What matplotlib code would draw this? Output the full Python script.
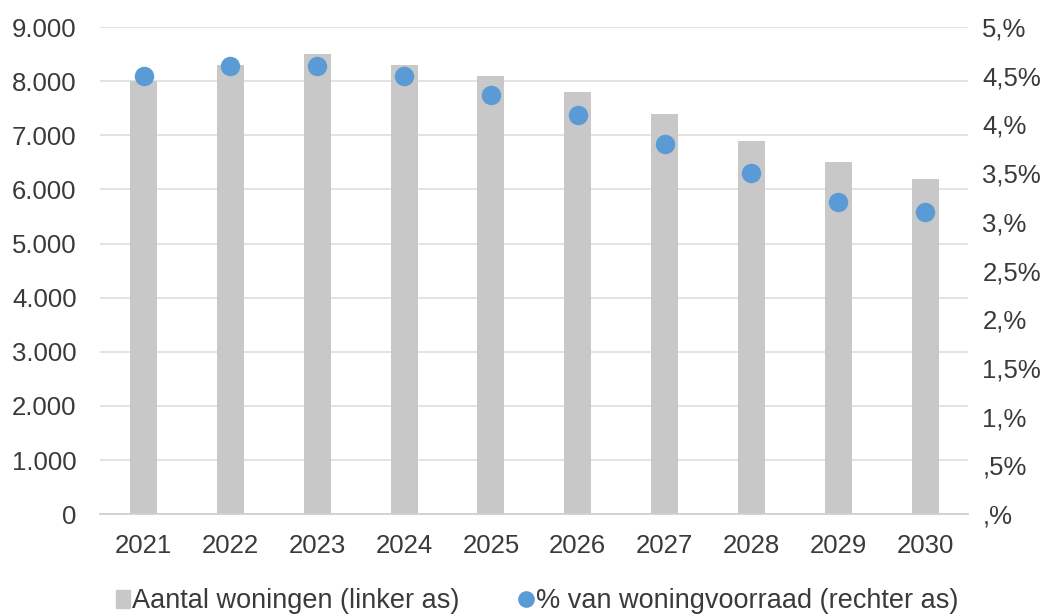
import numpy as np
import matplotlib.pyplot as plt
from matplotlib.ticker import FuncFormatter, MultipleLocator
from matplotlib.lines import Line2D
from matplotlib.patches import Patch

plt.rcParams['font.family'] = ['Liberation Sans', 'DejaVu Sans']

years = ["2021", "2022", "2023", "2024", "2025", "2026", "2027", "2028", "2029", "2030"]
woningen = [8000, 8300, 8500, 8300, 8100, 7800, 7400, 6900, 6500, 6200]
pct_voorraad = [4.5, 4.6, 4.6, 4.5, 4.3, 4.1, 3.8, 3.5, 3.2, 3.1]

bar_color = "#c8c8c8"
dot_color = "#5b9bd5"
text_color = "#3a3a3a"
grid_color = "#e0e0e0"

fig = plt.figure(figsize=(10.55, 6.15), dpi=100)
ax = fig.add_axes([0.095, 0.164, 0.823, 0.792])
ax2 = ax.twinx()

x = np.arange(len(years))
ax.bar(x, woningen, width=0.31, color=bar_color, zorder=2)
ax2.plot(x, pct_voorraad, "o", color=dot_color, markersize=13, zorder=3)

ax.set_xlim(-0.5, len(years) - 0.5)
ax.set_ylim(0, 9000)
ax2.set_ylim(0, 5)
ax.yaxis.set_major_locator(MultipleLocator(1000))
ax2.yaxis.set_major_locator(MultipleLocator(0.5))

ax.yaxis.set_major_formatter(FuncFormatter(lambda v, p: f"{int(v):,}".replace(",", ".")))


def pct_fmt(v, p):
    whole = int(v)
    frac = "5" if abs(v - whole - 0.5) < 1e-6 else ""
    lead = str(whole) if whole > 0 else ""
    return f"{lead},{frac}%"


ax2.yaxis.set_major_formatter(FuncFormatter(pct_fmt))

ax.set_xticks(x)
ax.set_xticklabels(years)
ax.grid(axis="y", color=grid_color, lw=1.3, zorder=0)
ax.set_axisbelow(True)

for a in (ax, ax2):
    for s in a.spines.values():
        s.set_visible(False)
    a.tick_params(length=0, colors=text_color, labelsize=18.5)
ax.spines["bottom"].set_visible(True)
ax.spines["bottom"].set_color("#d0d0d0")
ax.spines["bottom"].set_linewidth(1.3)
ax.tick_params(axis="y", pad=17)
ax.tick_params(axis="x", pad=14)
ax2.tick_params(axis="y", pad=10)

handles = [
    Patch(color=bar_color, label="Aantal woningen (linker as)"),
    Line2D([], [], marker="o", ls="", color=dot_color, markersize=11,
           label="% van woningvoorraad (rechter as)"),
]
fig.legend(handles=handles, loc="center", bbox_to_anchor=(0.509, 0.022), ncol=2,
           frameon=False, fontsize=19.5, labelcolor=text_color, handlelength=0.5,
           handletextpad=0.1, columnspacing=2.2)

fig.savefig("out.png", dpi=100)
